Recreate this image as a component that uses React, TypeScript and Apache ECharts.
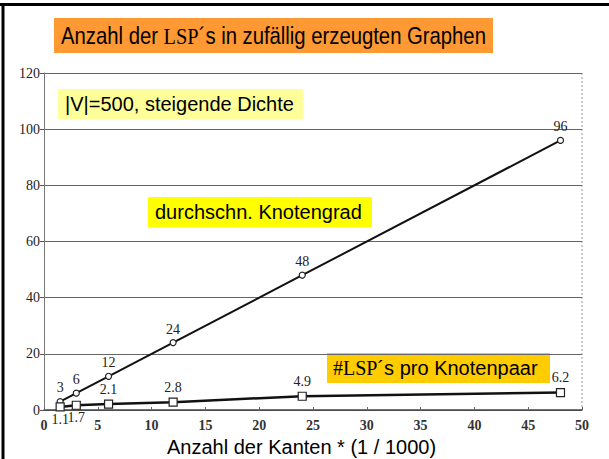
import React, { useEffect, useRef } from "react";
import * as echarts from "echarts";

const edgesK = [1.5, 3, 6, 12, 24, 48];
const avgDegree = [3, 6, 12, 24, 48, 96];
const lspPerPair = [1.1, 1.7, 2.1, 2.8, 4.9, 6.2];
const xTicks = [0, 5, 10, 15, 20, 25, 30, 35, 40, 45, 50];
const yTicks = [0, 20, 40, 60, 80, 100, 120];

const serif = "'Liberation Serif', 'DejaVu Serif', serif";
const sans = "'Liberation Sans', Arial, sans-serif";

export default function App() {
  const ref = useRef<HTMLDivElement>(null);
  useEffect(() => {
    document.body.style.margin = "0";
    const chart = echarts.init(ref.current!, null, { renderer: "svg" });
    const degData = edgesK.map((x, i) => [x, avgDegree[i]]);
    const pairData = edgesK.map((x, i) => {
      const item: any = { value: [x, lspPerPair[i]] };
      if (i < 2) item.label = { position: "bottom", distance: 1 };
      return item;
    });
    chart.setOption({
      animation: false,
      backgroundColor: "#ffffff",
      grid: { left: 44, right: 27, top: 73, bottom: 49, containLabel: false },
      xAxis: {
        type: "value",
        min: xTicks[0],
        max: xTicks[xTicks.length - 1],
        interval: 5,
        axisLine: { show: true, lineStyle: { color: "#444", width: 1.5 } },
        axisTick: { show: true, inside: true, length: 3, lineStyle: { color: "#666" } },
        axisLabel: { color: "#333", fontFamily: serif, fontSize: 14, fontWeight: "bold", margin: 8 },
        splitLine: { show: false },
      },
      yAxis: {
        type: "value",
        min: yTicks[0],
        max: yTicks[yTicks.length - 1],
        interval: 20,
        axisLine: { show: true, lineStyle: { color: "#777", width: 1 } },
        axisTick: { show: true, length: 4, lineStyle: { color: "#555" } },
        axisLabel: { color: "#222", fontFamily: serif, fontSize: 14, margin: 4 },
        splitLine: { show: true, lineStyle: { color: "#666", width: 1 } },
      },
      series: [
        {
          type: "line",
          data: degData,
          symbol: "circle",
          symbolSize: 6,
          itemStyle: { color: "#fff", borderColor: "#222", borderWidth: 1.2 },
          lineStyle: { color: "#111", width: 2 },
          label: { show: true, position: "top", distance: 3, color: "#222", fontFamily: serif, fontSize: 14 },
          z: 3,
        },
        {
          type: "line",
          data: pairData,
          symbol: "rect",
          symbolSize: 8,
          itemStyle: { color: "#fff", borderColor: "#222", borderWidth: 1.2 },
          lineStyle: { color: "#111", width: 2.5 },
          label: {
            show: true,
            position: "top",
            distance: 3,
            color: "#222",
            fontFamily: serif,
            fontSize: 14,
            formatter: (p: any) => String(p.value[1]),
          },
          z: 3,
        },
      ],
      graphic: [
        { type: "line", shape: { x1: 582, y1: 73, x2: 582, y2: 410 }, style: { stroke: "#999", lineWidth: 1, lineDash: [2, 2] } },
        { type: "line", shape: { x1: 0, y1: 4.5, x2: 609, y2: 4.5 }, style: { stroke: "#000", lineWidth: 3 } },
        { type: "line", shape: { x1: 3, y1: 3, x2: 3, y2: 459 }, style: { stroke: "#000", lineWidth: 3 } },
        { type: "rect", shape: { x: 54, y: 18, width: 439, height: 35 }, style: { fill: "#FF9933" } },
        {
          type: "text",
          x: 273.5,
          y: 36,
          scaleX: 0.845,
          originX: 0,
          style: {
            text: "{a|Anzahl der }{b|LSP}{a|´s in zufällig erzeugten Graphen}",
            align: "center",
            verticalAlign: "middle",
            rich: {
              a: { fontFamily: sans, fontSize: 24, fill: "#000" },
              b: { fontFamily: serif, fontSize: 24, fill: "#000" },
            },
          },
        },
        { type: "rect", shape: { x: 58, y: 89, width: 245, height: 30 }, style: { fill: "#FFFF99" } },
        {
          type: "text",
          x: 65,
          y: 104,
          style: { text: "|V|=500, steigende Dichte", align: "left", verticalAlign: "middle", fontFamily: sans, fontSize: 20, fill: "#000" },
        },
        { type: "rect", shape: { x: 148, y: 197, width: 224, height: 30 }, style: { fill: "#FFFF00" } },
        {
          type: "text",
          x: 155,
          y: 212,
          style: { text: "durchschn. Knotengrad", align: "left", verticalAlign: "middle", fontFamily: sans, fontSize: 20, fill: "#000" },
        },
        { type: "rect", shape: { x: 327, y: 353, width: 223, height: 30 }, style: { fill: "#FFCC00" } },
        {
          type: "text",
          x: 333,
          y: 368,
          style: {
            text: "{b|#LSP}{a|´s pro Knotenpaar}",
            align: "left",
            verticalAlign: "middle",
            rich: {
              a: { fontFamily: sans, fontSize: 20, fill: "#000" },
              b: { fontFamily: serif, fontSize: 20, fill: "#000" },
            },
          },
        },
        {
          type: "text",
          x: 167,
          y: 447,
          style: { text: "Anzahl der Kanten * (1 / 1000)", align: "left", verticalAlign: "middle", fontFamily: sans, fontSize: 20, fill: "#000" },
        },
      ],
    });
    return () => chart.dispose();
  }, []);
  return <div ref={ref} style={{ width: 609, height: 459 }} />;
}
